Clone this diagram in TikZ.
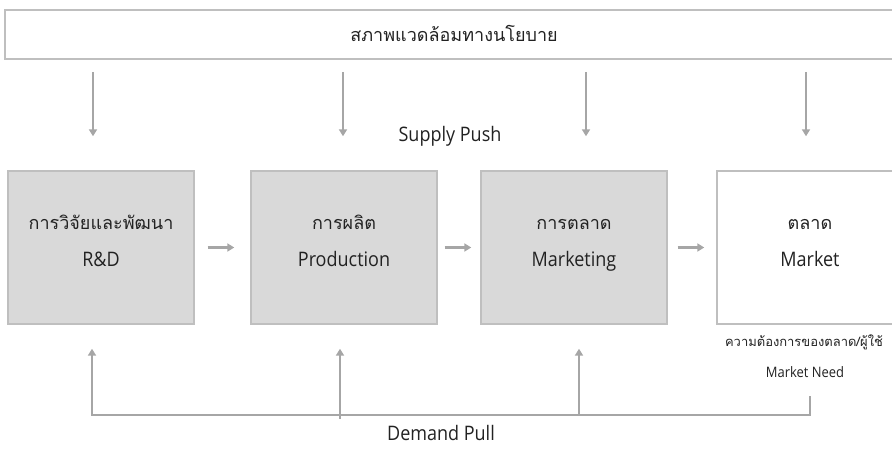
\documentclass[tikz,border=0pt]{standalone}
\usepackage{fontspec}
\setmainfont{Open Sans}[FakeStretch=0.9]
\newfontfamily\thaifont[Script=Thai,Scale=0.9]{Loma}
\usetikzlibrary{arrows.meta}
\definecolor{ink}{HTML}{222222}
\definecolor{edgeGray}{HTML}{BFBFBF}
\definecolor{arrowGray}{HTML}{A6A6A6}
\definecolor{stageFill}{HTML}{D9D9D9}
\tikzset{
  policy card/.style={
    draw=edgeGray,
    fill=white,
    line width=1.6pt,
    minimum width=898pt,
    minimum height=49pt,
    inner sep=0pt
  },
  stage card/.style={
    draw=edgeGray,
    fill=stageFill,
    line width=1.4pt,
    minimum width=186pt,
    minimum height=153pt,
    inner sep=0pt
  },
  market card/.style={
    stage card,
    fill=white
  },
  stage label/.style={
    font=\fontsize{20}{24}\selectfont,
    text=ink,
    inner sep=0pt
  },
  thai line/.style={
    stage label,
    anchor=base,
    yshift=18.5pt
  },
  latin line/.style={
    stage label,
    anchor=base,
    yshift=-18.5pt
  },
  side label/.style={
    font=\fontsize{14.4}{16}\selectfont,
    text=ink,
    inner sep=0pt
  },
  gray edge/.style={
    draw=arrowGray,
    line width=2.4pt
  },
  flow edge/.style={
    gray edge,
    -{Triangle[length=7pt,width=8pt]}
  }
}

\begin{document}
\begin{tikzpicture}[x=1pt,y=-1pt]
  \useasboundingbox (0,0) rectangle (892,450);
  \clip (0,0) rectangle (892,450);

  % policy frame on top
  \node[policy card] (policy) at (454,34.5) {};
  \node[stage label] (policyText) at (454,33) {\thaifont สภาพแวดล้อมทางนโยบาย};

  % the four stages
  \node[stage card] (rnd) at (101,247.5) {};
  \node[stage card] (prod) at (344,247.5) {};
  \node[stage card] (mkting) at (574,247.5) {};
  \node[market card] (market) at (810,247.5) {};

  \node[thai line] (rndThai) at (rnd.center) {\thaifont การวิจัยและพัฒนา};
  \node[latin line] (rndEn) at (rnd.center) {R\&D};
  \node[thai line] (prodThai) at (prod.center) {\thaifont การผลิต};
  \node[latin line] (prodEn) at (prod.center) {Production};
  \node[thai line] (mktingThai) at (mkting.center) {\thaifont การตลาด};
  \node[latin line] (mktingEn) at (mkting.center) {Marketing};
  \node[thai line] (marketThai) at (market.center) {\thaifont ตลาด};
  \node[latin line] (marketEn) at (market.center) {Market};

  \draw[flow edge,shorten <=13pt,shorten >=16pt] (rnd) -- (prod);
  \draw[flow edge,shorten <=7pt,shorten >=9pt] (prod) -- (mkting);
  \draw[flow edge,shorten <=10pt,shorten >=12pt] (mkting) -- (market);

  % supply push from the policy frame
  \foreach \x/\n in {93/rnd,343/prod,586/mkting,806/market}{
    \coordinate (push\n) at (\x,0);
    \draw[flow edge,shorten <=12pt,shorten >=34pt]
      (policy.south -| push\n) -- (\n.north -| push\n);
  }
  \node[stage label] (supply) at (450,136) {Supply Push};

  % market need and demand pull
  \node[side label] (needThai) at (804,342) {\thaifont ความต้องการของตลาด/ผู้ใช้};
  \node[side label] (needEn) at (805,372) {Market Need};

  \coordinate (need) at (810,396);
  \coordinate (foot1) at (92,415);
  \coordinate (foot2) at (340,419);
  \coordinate (foot3) at (579,415);
  \draw[flow edge,shorten >=24pt] (need) |- (foot1) -- (foot1 |- rnd.south);
  \draw[flow edge,shorten >=24pt] (foot2) -- (foot2 |- prod.south);
  \draw[flow edge,shorten >=24pt] (foot3) -- (foot3 |- mkting.south);
  \node[stage label] (demand) at (441,433) {Demand Pull};
\end{tikzpicture}
\end{document}
